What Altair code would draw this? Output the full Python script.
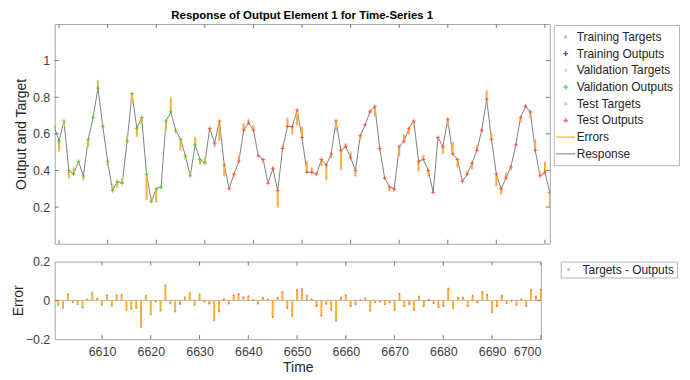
import altair as alt
import pandas as pd

# ---------------- data ----------------
time = list(range(6599, 6702))

outputs = [
    0.64, 0.56, 0.67, 0.40, 0.38, 0.45, 0.37, 0.57, 0.69, 0.85,   # 6599-6608
    0.64, 0.45, 0.29, 0.34, 0.33, 0.56, 0.82, 0.63, 0.69, 0.38,   # 6609-6618
    0.23, 0.30, 0.31, 0.67, 0.72, 0.62, 0.57, 0.48, 0.37, 0.54,   # 6619-6628
    0.46, 0.44, 0.63, 0.55, 0.67, 0.43, 0.30, 0.38, 0.45, 0.62,   # 6629-6638
    0.66, 0.62, 0.48, 0.46, 0.33, 0.41, 0.29, 0.52, 0.64, 0.64,   # 6639-6648
    0.73, 0.58, 0.39, 0.39, 0.38, 0.46, 0.43, 0.49, 0.67, 0.51,   # 6649-6658
    0.53, 0.47, 0.40, 0.59, 0.65, 0.72, 0.75, 0.52, 0.36, 0.31,   # 6659-6668
    0.30, 0.53, 0.56, 0.63, 0.67, 0.45, 0.46, 0.40, 0.28, 0.58,   # 6669-6678
    0.53, 0.68, 0.49, 0.46, 0.34, 0.38, 0.44, 0.51, 0.62, 0.79,   # 6679-6688
    0.57, 0.38, 0.30, 0.36, 0.42, 0.54, 0.69, 0.75, 0.72, 0.51,   # 6689-6698
    0.37, 0.39, 0.28,                                             # 6699-6701
]

errors = [
    0.0, -0.055,                                                            # 6599-6600
    -0.024, -0.04, 0.034, -0.01, -0.02, -0.038, 0.007, 0.04, 0.01, -0.024,  # 6601-6610
    0.027, -0.03, 0.027, 0.03, -0.05, -0.044, -0.04, -0.138, 0.024, -0.072, # 6611-6620
    -0.007, -0.053, 0.079, -0.015, -0.058, -0.02, 0.017, 0.04, -0.024, 0.032,
    -0.007, -0.017, -0.103, -0.058, 0.007, -0.017, 0.027, 0.034, 0.017, 0.022,
    0.003, -0.017, 0.014, 0.007, -0.087, 0.014, 0.044, -0.04, -0.08, 0.055,
    0.058, 0.024, 0.007, -0.03, -0.079, -0.019, -0.05, -0.104, 0.014, 0.027,
    -0.03, -0.02, 0.0, 0.01, -0.053, -0.01, -0.007, -0.02, -0.01, -0.051,
    0.034, -0.03, -0.02, -0.05, 0.02, -0.03, 0.003, -0.015, -0.036, -0.03,
    0.062, -0.04, 0.014, 0.014, -0.03, 0.024, -0.01, 0.044, 0.03, -0.062,
    -0.03, 0.024, -0.015, -0.003, -0.024, 0.007, -0.03, 0.055, 0.02, 0.055, # 6691-6700
    -0.08,                                                                  # 6701
]

groups = ["Validation"] * 32 + ["Test"] * 71

legend_labels = ["Training Targets", "Training Outputs", "Validation Targets",
                 "Validation Outputs", "Test Targets", "Test Outputs", "Errors", "Response"]
legend_colors = ["#9999ff", "#0000ff", "#99e699", "#22cc22", "#ff9999", "#ff3333",
                 "#ffa500", "#808080"]

x_ticks_upper = [6600, 6610, 6620, 6630, 6640, 6650, 6660, 6670, 6680, 6690, 6700]
x_ticks_lower = [6610, 6620, 6630, 6640, 6650, 6660, 6670, 6680, 6690, 6700]
y_ticks_upper = [0.2, 0.4, 0.6, 0.8, 1.0]
y_ticks_lower = [-0.2, 0, 0.2]

title_text = "Response of Output Element 1 for Time-Series 1"

# ---------------- frames ----------------
df = pd.DataFrame({"t": time, "output": outputs, "error": errors, "group": groups})
df["target"] = df["output"] + df["error"]

pts_out = pd.DataFrame({"t": df["t"], "value": df["output"],
                        "series": df["group"] + " Outputs"})
pts_tgt = pd.DataFrame({"t": df["t"], "value": df["target"],
                        "series": df["group"] + " Targets"})
pts = pd.concat([pts_tgt, pts_out], ignore_index=True)

low = df[(df["t"] >= 6601) & (df["t"] <= 6700)].copy()
low["lbl"] = "Targets - Outputs"

# ---------------- style ----------------
FONT = "Liberation Sans"
ORANGE = "#ffad33"
TICK = "#7a7a7a"
DOT = "M-0.12,-0.12H0.12V0.12H-0.12Z"
PLUS = "M0,-0.4V0.4M-0.4,0H0.4"
LINE = "M-1.6,0H1.6"
legend_shapes = [DOT, PLUS, DOT, PLUS, DOT, PLUS, LINE, LINE]

W1, H1 = 498, 221
W2, H2 = 489, 78

xs1 = alt.Scale(domain=[6599.1, 6701], nice=False, zero=False)
ys1 = alt.Scale(domain=[0, 1.2], nice=False, zero=False)
xs2 = alt.Scale(domain=[6600.3, 6700], nice=False, zero=False)
ys2 = alt.Scale(domain=[-0.2, 0.2], nice=False, zero=False)

xax1 = alt.Axis(labels=False, ticks=False, domain=False, title=None, grid=False)
yax1 = alt.Axis(values=y_ticks_upper, ticks=False, domain=False, grid=False, format="~g",
                title="Output and Target", labelPadding=5, titlePadding=4)
xax2 = alt.Axis(values=x_ticks_lower, ticks=False, domain=False, grid=False, format="d",
                title="Time", labelPadding=6, titlePadding=3)
yax2 = alt.Axis(values=y_ticks_lower, ticks=False, domain=False, grid=False, format="~g",
                title="Error", labelPadding=5, titlePadding=0)


def X1(f):
    return alt.X(f, type="quantitative", scale=xs1, axis=xax1)


def Y1(f):
    return alt.Y(f, type="quantitative", scale=ys1, axis=yax1)


def X2(f):
    return alt.X(f, type="quantitative", scale=xs2, axis=xax2)


def Y2(f):
    return alt.Y(f, type="quantitative", scale=ys2, axis=yax2)


def frame_ticks(xvals, yvals, W, H, Xf, Yf):
    xt = pd.DataFrame({"t": xvals})
    yt = pd.DataFrame({"value": yvals})
    b = alt.Chart(xt).mark_rule(color=TICK).encode(x=Xf("t"), y=alt.value(H), y2=alt.value(H - 4))
    tp = alt.Chart(xt).mark_rule(color=TICK).encode(x=Xf("t"), y=alt.value(0), y2=alt.value(4))
    l = alt.Chart(yt).mark_rule(color=TICK).encode(y=Yf("value"), x=alt.value(0), x2=alt.value(4))
    r = alt.Chart(yt).mark_rule(color=TICK).encode(y=Yf("value"), x=alt.value(W), x2=alt.value(W - 4))
    return [b, tp, l, r]


leg1 = alt.Legend(title=None, orient="none", legendX=502, legendY=1,
                  strokeColor="#b3b3b3", fillColor="white", padding=5,
                  labelFont=FONT, labelFontSize=12, labelColor="#262626",
                  symbolSize=144, symbolStrokeWidth=1.5, rowPadding=3.8,
                  labelOffset=4, labelLimit=200)

# ---------------- upper panel ----------------
line = alt.Chart(df).mark_line(color="#808080", strokeWidth=1, clip=True).encode(
    x=X1("t"), y=Y1("output"))
errs = alt.Chart(df).mark_rule(color=ORANGE, strokeWidth=2, clip=True).encode(
    x=X1("t"), y=Y1("output"), y2="target:Q")
points = alt.Chart(pts).mark_point(filled=False, size=100, strokeWidth=1, clip=True).encode(
    x=X1("t"), y=Y1("value"),
    color=alt.Color("series:N", scale=alt.Scale(domain=legend_labels, range=legend_colors), legend=leg1),
    shape=alt.Shape("series:N", scale=alt.Scale(domain=legend_labels, range=legend_shapes), legend=leg1),
)

upper = alt.layer(line, errs, points,
                  *frame_ticks(x_ticks_upper, y_ticks_upper, W1, H1, X1, Y1)).properties(
    width=W1, height=H1,
    title=alt.TitleParams(title_text, font=FONT, fontSize=11.5, fontWeight="bold",
                          color="#000000", anchor="middle", frame="group", offset=2),
)

# ---------------- lower panel ----------------
leg2 = alt.Legend(title=None, orient="none", legendX=509, legendY=0,
                  strokeColor="#b3b3b3", fillColor="white", padding=2,
                  labelFont=FONT, labelFontSize=12, labelColor="#262626",
                  symbolSize=100, symbolStrokeWidth=1.5, labelOffset=8, labelLimit=200)

zero = alt.Chart(pd.DataFrame({"value": [0]})).mark_rule(color="#b5b5b5", strokeWidth=1).encode(
    y=Y2("value"))
bars = alt.Chart(low).mark_rule(color=ORANGE, strokeWidth=2).encode(
    x=X2("t"), y=Y2("error"), y2=alt.datum(0))
tips = alt.Chart(low).mark_point(filled=True, size=3, opacity=0.7).encode(
    x=X2("t"), y=Y2("error"),
    fill=alt.Fill("group:N", scale=alt.Scale(domain=["Validation", "Test"], range=["#22cc22", "#ff3333"]),
                  legend=None))
lpts = alt.Chart(low).transform_filter("datum.t < 0").mark_point(filled=False, size=100, strokeWidth=1.5).encode(
    x=X2("t"), y=Y2("error"),
    color=alt.Color("lbl:N", scale=alt.Scale(domain=["Targets - Outputs"], range=["#8fa3d1"]), legend=leg2),
    shape=alt.Shape("lbl:N", scale=alt.Scale(domain=["Targets - Outputs"], range=[DOT]), legend=leg2),
)

lower = alt.layer(zero, bars, tips, lpts,
                  *frame_ticks(x_ticks_lower, [0], W2, H2, X2, Y2)).properties(
    width=W2, height=H2)

chart = alt.vconcat(upper, lower, spacing=10).resolve_scale(
    color="independent", shape="independent", x="independent", y="independent", fill="independent"
).resolve_legend(color="independent", shape="independent").configure(
    padding={"left": 2, "top": 0, "right": 2, "bottom": 2},
    font=FONT,
).configure_view(stroke="#a6a6a6", strokeWidth=1).configure_axis(
    labelFont=FONT, titleFont=FONT, labelFontSize=12.5, titleFontSize=14,
    labelColor="#404040", titleColor="#262626", titleFontWeight="normal",
)

chart.save("out.html", embed_options={"renderer": "svg", "actions": False})
